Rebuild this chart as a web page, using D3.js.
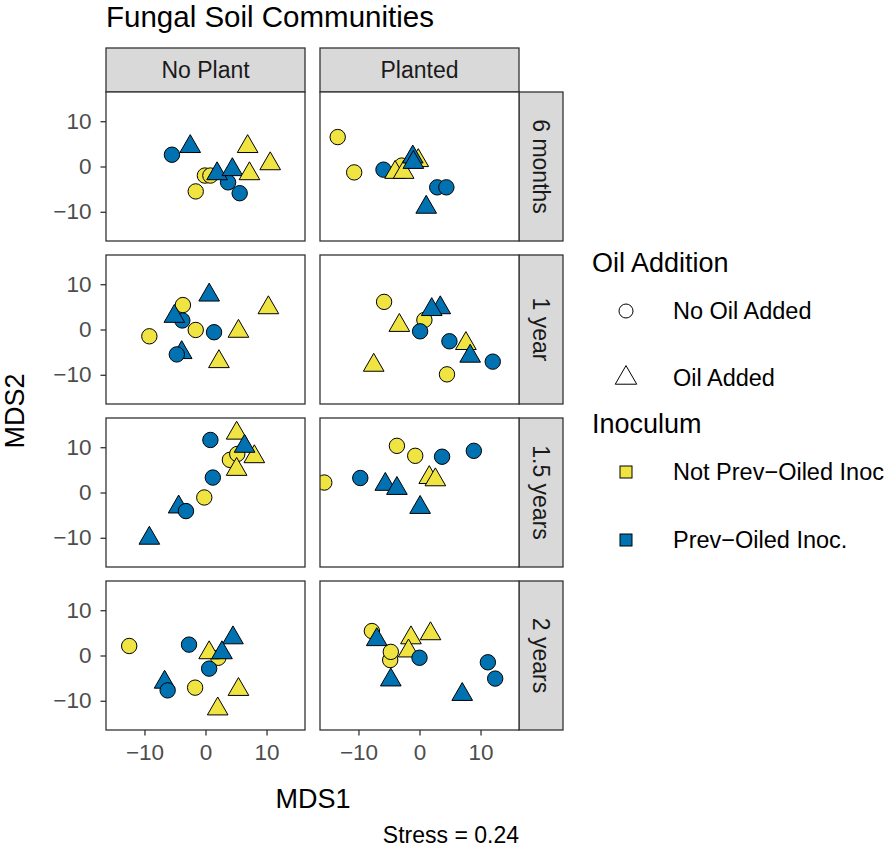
<!DOCTYPE html>
<html>
<head>
<meta charset="utf-8">
<script src="https://d3js.org/d3.v7.min.js"></script>
<style>
  body { margin: 0; background: #fff; }
  svg text { font-family: "Liberation Sans", Arial, Helvetica, sans-serif; }
</style>
</head>
<body>
<script>
var plantings = ["No Plant", "Planted"];
var timepoints = ["6 months", "1 year", "1.5 years", "2 years"];
var oilLevels = ["No Oil Added", "Oil Added"];
var inocLevels = ["Not Prev\u2212Oiled Inoc", "Prev\u2212Oiled Inoc."];
var inocColors = ["#F0E442", "#0072B2"];
var axisTicks = [-10, 0, 10];

// each point: [MDS1, MDS2, oil (0 none / 1 added), inoculum (0 not prev / 1 prev)], in drawing order
var noPlant6m = [[-0.1,-2.0,0,0],[0.8,-2.0,0,0],[-1.6,-5.5,0,0],[6.9,4.4,1,0],[10.6,0.6,1,0],
                 [-5.5,2.6,0,1],[3.7,-3.5,0,1],[5.6,-5.9,0,1],[-2.5,4.4,1,1],[1.9,-1.6,1,1],[4.4,-0.7,1,1],[7.2,-1.6,1,0]];
var planted6m = [[-5.9,-0.7,0,1],[-13.4,6.5,0,0],[-10.7,-1.3,0,0],[-2.9,0.2,0,0],[-4.0,-1.3,1,0],[-2.6,-1.3,1,0],
                 [-0.2,1.3,1,0],[2.9,-4.6,0,1],[4.4,-4.6,0,1],[-1.1,2.1,1,1],[-1.0,0.9,1,1],[1.1,-9.0,1,1]];
var noPlant1y = [[-3.8,2.0,0,1],[-9.2,-1.5,0,0],[-3.7,5.4,0,0],[-1.6,-0.1,0,0],[10.3,4.8,1,0],[5.4,-0.4,1,0],
                 [2.2,-7.1,1,0],[1.4,-0.6,0,1],[-5.1,2.9,1,1],[0.6,7.6,1,1],[-3.9,-5.1,1,1],[-4.7,-5.5,0,1]];
var planted1y = [[0.8,2.1,0,0],[0.1,-0.4,0,1],[4.9,-2.6,0,1],[12.0,-7.1,0,1],[-5.8,6.1,0,0],[4.5,-9.9,0,0],
                 [-3.3,0.9,1,0],[7.6,-3.1,1,0],[-7.5,-7.9,1,0],[3.4,4.8,1,1],[2.0,4.4,1,1],[8.3,-5.9,1,1]];
var noPlant15y = [[4.0,7.2,0,0],[5.2,8.5,0,0],[-0.2,-1.1,0,0],[5.1,13.1,1,0],[8.0,7.9,1,0],[5.1,5.1,1,0],
                  [0.8,11.6,0,1],[1.2,3.3,0,1],[6.4,10.2,1,1],[-4.4,-3.2,1,1],[-3.2,-4.1,0,1],[-9.2,-10.1,1,1]];
var planted15y = [[-15.6,2.2,0,0],[-3.7,10.3,0,0],[-0.7,8.1,0,0],[1.6,3.3,1,0],[2.6,2.8,1,0],
                  [-9.7,3.2,0,1],[3.7,7.9,0,1],[8.9,9.2,0,1],[-5.6,1.8,1,1],[-3.7,0.9,1,1],[0.1,-3.3,1,1]];
var noPlant2y = [[-12.5,2.1,0,0],[2.1,-0.5,0,0],[-1.7,-7.1,0,0],[0.6,0.6,1,0],[5.4,-7.5,1,0],[2.0,-11.8,1,0],
                 [-2.7,2.4,0,1],[0.6,-2.9,0,1],[4.5,3.9,1,1],[2.7,0.6,1,1],[-6.7,-5.9,1,1],[-6.2,-7.7,0,1]];
var planted2y = [[-7.8,5.4,0,0],[-4.8,-1.0,0,0],[-4.7,0.8,0,0],[-1.4,3.9,1,0],[-1.8,1.0,1,0],[1.8,4.8,1,0],
                 [0.0,-0.5,0,1],[11.2,-1.5,0,1],[12.4,-5.1,0,1],[-7.0,3.5,1,1],[-4.7,-5.4,1,1],[7.0,-8.6,1,1]];

var panelData = [[noPlant6m, planted6m], [noPlant1y, planted1y],
                 [noPlant15y, planted15y], [noPlant2y, planted2y]];

var W = 886, H = 848;
var left = 106, top0 = 92, pw = 199, ph = 149, gapX = 15, gapY = 14, stripH = 44, stripW = 44;
var border = "#333333", stripFill = "#D9D9D9";

var svg = d3.select("body").append("svg").attr("width", W).attr("height", H);

var x = d3.scaleLinear().domain([-16.3, 16.3]).range([0, pw]);
var y = d3.scaleLinear().domain([-16.45, 16.45]).range([ph, 0]);

var circleSym = d3.symbol().type(d3.symbolCircle).size(Math.PI * 7.7 * 7.7);
var triSym = d3.symbol().type(d3.symbolTriangle).size(185);

svg.append("text")
  .attr("x", left).attr("y", 27)
  .style("font-size", "29.5px").attr("fill", "#000")
  .text("Fungal Soil Communities");

// top strips
plantings.forEach(function (p, c) {
  var gx = left + c * (pw + gapX);
  svg.append("rect").attr("x", gx).attr("y", top0 - stripH).attr("width", pw).attr("height", stripH)
    .attr("fill", stripFill).attr("stroke", border).attr("stroke-width", 1.3);
  svg.append("text").attr("x", gx + pw / 2).attr("y", top0 - stripH / 2).attr("dy", "0.36em")
    .attr("text-anchor", "middle").style("font-size", "23px").attr("fill", "#1A1A1A").text(p);
});

timepoints.forEach(function (t, r) {
  var gy = top0 + r * (ph + gapY);
  // right strip
  var sx = left + 2 * pw + gapX;
  svg.append("rect").attr("x", sx).attr("y", gy).attr("width", stripW).attr("height", ph)
    .attr("fill", stripFill).attr("stroke", border).attr("stroke-width", 1.3);
  svg.append("text")
    .attr("transform", "translate(" + (sx + stripW / 2) + "," + (gy + ph / 2) + ") rotate(90)")
    .attr("dy", "0.36em").attr("text-anchor", "middle")
    .style("font-size", "23px").attr("fill", "#1A1A1A").text(t);

  plantings.forEach(function (p, c) {
    var gx = left + c * (pw + gapX);
    var g = svg.append("g").attr("transform", "translate(" + gx + "," + gy + ")");
    var clipId = "clip" + r + c;
    g.append("clipPath").attr("id", clipId).append("rect").attr("width", pw).attr("height", ph);

    g.append("rect").attr("width", pw).attr("height", ph).attr("fill", "#fff");

    g.append("g").attr("clip-path", "url(#" + clipId + ")")
      .selectAll("path").data(panelData[r][c]).enter().append("path")
      .attr("transform", function (d) { return "translate(" + x(d[0]) + "," + y(d[1]) + ")"; })
      .attr("d", function (d) { return d[2] === 0 ? circleSym() : triSym(); })
      .attr("fill", function (d) { return inocColors[d[3]]; })
      .attr("stroke", "#000").attr("stroke-width", 1);

    g.append("rect").attr("width", pw).attr("height", ph)
      .attr("fill", "none").attr("stroke", border).attr("stroke-width", 1.3);

    if (c === 0) {
      var ya = g.append("g").call(d3.axisLeft(y).tickValues(axisTicks).tickSize(5.5).tickPadding(9));
      styleAxis(ya);
    }
    if (r === timepoints.length - 1) {
      var xa = g.append("g").attr("transform", "translate(0," + ph + ")")
        .call(d3.axisBottom(x).tickValues(axisTicks).tickSize(5.5).tickPadding(9));
      styleAxis(xa);
    }
  });
});

function styleAxis(a) {
  a.select(".domain").remove();
  a.selectAll(".tick line").attr("stroke", border).attr("stroke-width", 1.3);
  a.selectAll(".tick text").attr("fill", "#4D4D4D").style("font-size", "22.5px")
    .style("font-family", "'Liberation Sans', Arial, sans-serif");
}

var plotMidX = left + pw + gapX / 2;
var plotMidY = top0 + (4 * ph + 3 * gapY) / 2;
svg.append("text").attr("x", plotMidX + 0.5).attr("y", 808).attr("text-anchor", "middle")
  .style("font-size", "27px").text("MDS1");
svg.append("text").attr("transform", "translate(24," + plotMidY + ") rotate(-90)")
  .attr("text-anchor", "middle").style("font-size", "27px").text("MDS2");
svg.append("text").attr("x", left + 2 * pw + gapX).attr("y", 843).attr("text-anchor", "end")
  .style("font-size", "23px").text("Stress = 0.24");

// legends
var lg = svg.append("g");
lg.append("text").attr("x", 592).attr("y", 272).style("font-size", "27px").text("Oil Addition");
var oilKeyY = [311, 378];
oilLevels.forEach(function (o, i) {
  lg.append("path").attr("transform", "translate(626," + oilKeyY[i] + ")")
    .attr("d", i === 0 ? d3.symbol().type(d3.symbolCircle).size(Math.PI * 49)() : d3.symbol().type(d3.symbolTriangle).size(200)())
    .attr("fill", "none").attr("stroke", "#000").attr("stroke-width", 1);
  lg.append("text").attr("x", 673).attr("y", oilKeyY[i]).attr("dy", "0.34em")
    .style("font-size", "23.5px").text(o);
});
lg.append("text").attr("x", 592).attr("y", 433).style("font-size", "27px").text("Inoculum");
var inocKeyY = [472, 540];
inocLevels.forEach(function (n, i) {
  lg.append("rect").attr("x", 620).attr("y", inocKeyY[i] - 6).attr("width", 12).attr("height", 12)
    .attr("fill", inocColors[i]).attr("stroke", "#000").attr("stroke-width", 1);
  lg.append("text").attr("x", 673).attr("y", inocKeyY[i]).attr("dy", "0.34em")
    .style("font-size", "23.5px").text(n);
});
</script>
</body>
</html>
